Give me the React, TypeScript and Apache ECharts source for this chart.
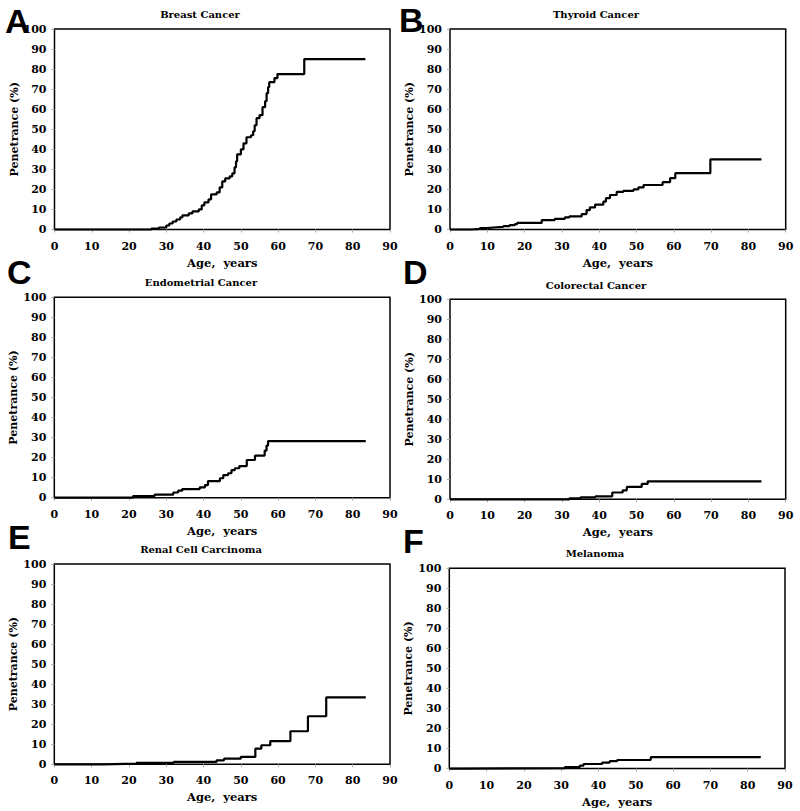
import React, { useEffect, useRef } from "react";
import * as echarts from "echarts";

// Axis ranges / ticks
const ageMin = 0;
const ageMax = 90;
const ageStep = 10;
const penMin = 0;
const penMax = 100;
const penStep = 10;

const xAxisName = "Age,  years";
const yAxisName = "Penetrance (%)";

const titles = [
  "Breast Cancer",
  "Thyroid Cancer",
  "Endometrial Cancer",
  "Colorectal Cancer",
  "Renal Cell Carcinoma",
  "Melanoma",
];
const letters = ["A", "B", "C", "D", "E", "F"];

// [age, penetrance %] — value after the step at that age
const breast: [number, number][] = [
  [0, 0], [26, 0.5], [28, 1], [30, 2], [30.8, 3], [31.7, 4], [32.7, 5], [33.7, 6],
  [34.3, 7], [36, 8], [37, 9], [38.7, 10], [39.5, 12], [40.2, 13.5], [41.3, 15],
  [42, 17.5], [43.5, 18.5], [44.3, 21], [45, 24], [45.8, 25.5], [47, 26.5],
  [47.7, 28], [48.3, 31], [48.7, 34], [49, 37.5], [50, 40], [50.7, 43], [51.5, 46],
  [52.7, 47], [53.3, 49], [53.7, 52], [54.2, 55.5], [55, 57], [55.8, 61], [56.5, 64],
  [56.9, 68], [57.3, 71], [57.6, 73.5], [59, 75.5], [59.8, 77.5], [67, 85], [83.4, 85],
];
const thyroid: [number, number][] = [
  [0, 0], [5.8, 0.3], [8, 0.7], [9.8, 1], [11.6, 1.3], [14.3, 1.7], [16, 2.2],
  [17.4, 2.7], [18, 3.3], [24.6, 4.7], [28.1, 5.3], [30.8, 6], [32, 6.5],
  [35.3, 7.7], [36.6, 9.7], [37.5, 11], [38.9, 12.4], [41.1, 13.9], [41.8, 15.6],
  [42.9, 17.2], [44.7, 18.8], [46.5, 19.3], [49.2, 20], [50.5, 21], [51.9, 22.2],
  [57, 23.6], [59, 25.6], [60.4, 28.1], [69.8, 35], [83.5, 35],
];
const endometrial: [number, number][] = [
  [0, 0], [21.1, 0.8], [26.9, 1.5], [31.9, 2.6], [33.2, 3.5], [34.3, 4.3], [39, 5.2],
  [40.4, 6.3], [41.2, 8.3], [44.4, 9.7], [45.3, 11.3], [46.6, 12.2], [47.5, 13.8],
  [48.4, 14.7], [49.6, 15.8], [51.6, 18.8], [53.8, 21], [56.4, 23.5], [56.9, 26],
  [57.3, 28.2], [83.5, 28.2],
];
const colorectal: [number, number][] = [
  [0, 0], [32, 0.5], [35, 1], [39, 1.5], [43.5, 3.4], [46.3, 4.5], [47.4, 6.2],
  [51.4, 7.7], [53, 9], [83.5, 9],
];
const renal: [number, number][] = [
  [0, 0], [13, 0.3], [22, 0.7], [32, 1.2], [43.5, 2], [45.5, 2.8], [50, 3.7],
  [53.9, 7.8], [55.5, 9.5], [57.9, 11.6], [63.3, 16.5], [68, 24], [72.9, 33.4],
  [83.5, 33.4],
];
const melanoma: [number, number][] = [
  [0, 0], [3, 0.2], [31, 0.8], [35, 1.5], [36, 2.3], [41, 3], [43, 3.7], [45, 4.3],
  [54, 5.7], [83.5, 5.7],
];

const panelData = [breast, thyroid, endometrial, colorectal, renal, melanoma];

// Layout (pixels)
const gridBoxes = [
  { left: 54.5, top: 29, width: 335.5, height: 200.5 },
  { left: 450, top: 29, width: 335.7, height: 200.5 },
  { left: 54.3, top: 297.3, width: 335.7, height: 200.4 },
  { left: 450, top: 299.3, width: 335.7, height: 200 },
  { left: 54.3, top: 564, width: 335.7, height: 200.3 },
  { left: 449.3, top: 568.3, width: 335.7, height: 200.3 },
];
const titlePos = [
  [200, 14], [596, 14], [201, 282.5], [596, 285], [201, 549], [595, 553],
];
const letterPos = [
  [5, 21], [399, 20], [7, 272], [403, 272], [8, 537], [403, 541],
];

const serif = '"DejaVu Serif", "Liberation Serif", serif';

export default function App() {
  const ref = useRef<HTMLDivElement>(null);
  useEffect(() => {
    if (!ref.current) return;
    const chart = echarts.init(ref.current, undefined, { renderer: "svg" });
    const option: any = {
      animation: false,
      backgroundColor: "#fff",
      grid: gridBoxes.map((g) => ({
        ...g,
        show: true,
        borderColor: "#000",
        borderWidth: 1.5,
        backgroundColor: "transparent",
        containLabel: false,
      })),
      xAxis: gridBoxes.map((_, i) => ({
        type: "value",
        gridIndex: i,
        min: ageMin,
        max: ageMax,
        interval: ageStep,
        axisLine: { show: false },
        splitLine: { show: false },
        axisTick: { show: true, length: 3, lineStyle: { color: "#aaa", width: 1 } },
        axisLabel: {
          margin: 11,
          fontFamily: serif,
          fontWeight: "bold",
          fontSize: 11,
          color: "#000",
        },
        name: xAxisName,
        nameLocation: "middle",
        nameGap: 27,
        nameTextStyle: {
          fontFamily: serif,
          fontWeight: "bold",
          fontSize: 11.5,
          color: "#000",
        },
      })),
      yAxis: gridBoxes.map((_, i) => ({
        type: "value",
        gridIndex: i,
        min: penMin,
        max: penMax,
        interval: penStep,
        axisLine: { show: false },
        splitLine: { show: false },
        axisTick: { show: true, length: 3, lineStyle: { color: "#aaa", width: 1 } },
        axisLabel: {
          margin: 8,
          fontFamily: serif,
          fontWeight: "bold",
          fontSize: 11,
          color: "#000",
        },
        name: yAxisName,
        nameLocation: "middle",
        nameRotate: 90,
        nameGap: 34,
        nameTextStyle: {
          fontFamily: serif,
          fontWeight: "bold",
          fontSize: 11,
          color: "#000",
        },
      })),
      series: panelData.map((d, i) => ({
        type: "line",
        xAxisIndex: i,
        yAxisIndex: i,
        step: "end",
        showSymbol: false,
        symbol: "none",
        clip: false,
        lineStyle: { color: "#000", width: 2.2 },
        data: d,
      })),
      graphic: [
        ...titles.map((t, i) => ({
          type: "text",
          x: titlePos[i][0],
          y: titlePos[i][1],
          style: {
            text: t,
            font: `bold 10px ${serif}`,
            fill: "#000",
            textAlign: "center",
            textVerticalAlign: "middle",
            align: "center",
            verticalAlign: "middle",
          },
        })),
        ...letters.map((t, i) => ({
          type: "text",
          x: letterPos[i][0],
          y: letterPos[i][1],
          style: {
            text: t,
            font: 'bold 34px "Liberation Sans", Arial, sans-serif',
            fill: "#000",
            textAlign: "left",
            textVerticalAlign: "middle",
            align: "left",
            verticalAlign: "middle",
          },
        })),
      ],
    };
    chart.setOption(option);
    return () => chart.dispose();
  }, []);
  return (
    <div
      ref={ref}
      style={{ position: "absolute", left: 0, top: 0, width: 800, height: 811 }}
    />
  );
}
